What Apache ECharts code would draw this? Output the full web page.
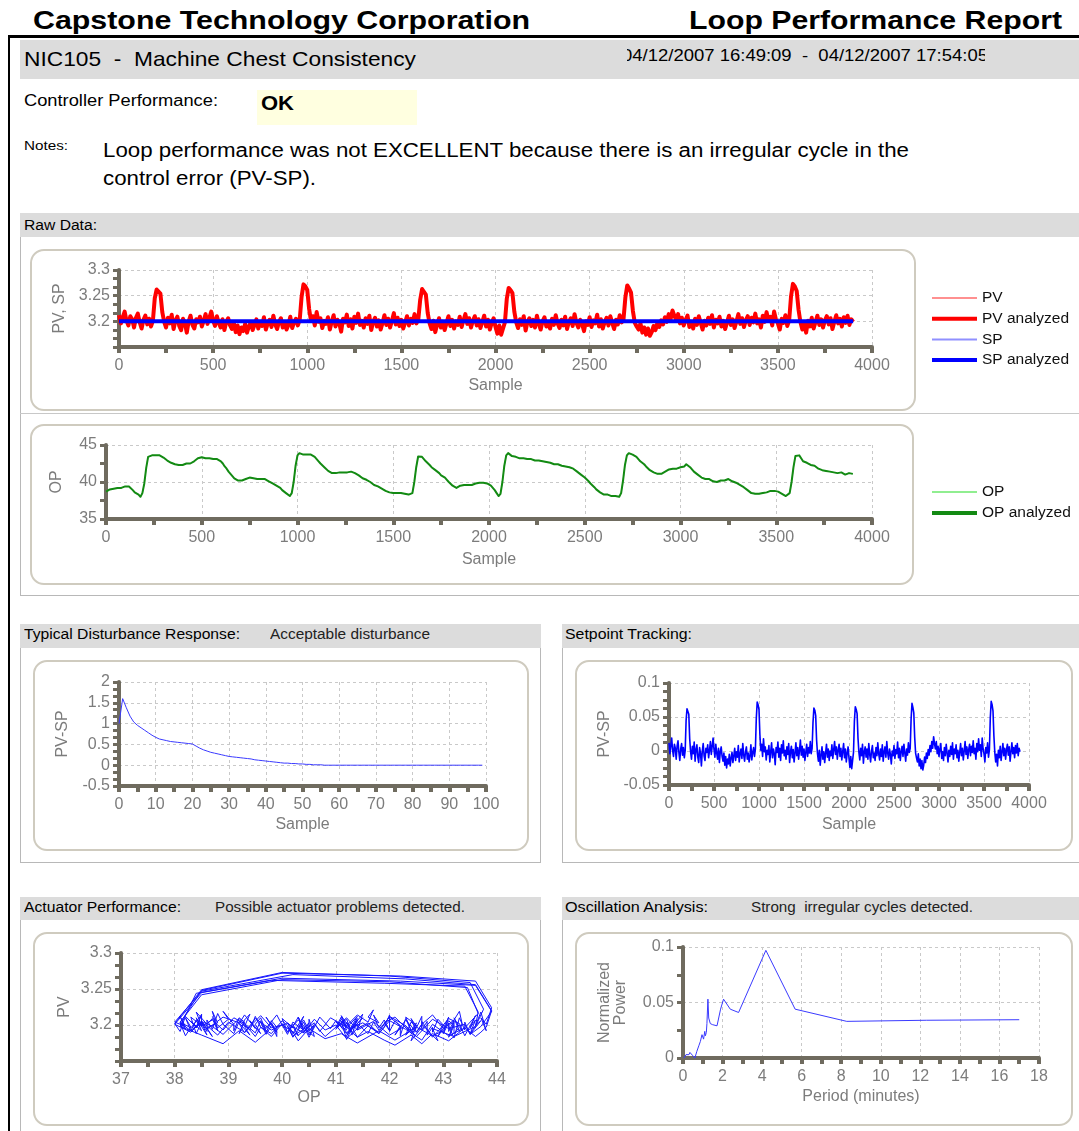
<!DOCTYPE html>
<html><head><meta charset="utf-8">
<script src="https://cdn.jsdelivr.net/npm/echarts@6/dist/echarts.min.js"></script>
<style>
html,body{margin:0;padding:0;background:#fff;width:1079px;height:1131px;overflow:hidden;font-family:"Liberation Sans",Arial,sans-serif;}
.box{position:absolute;box-sizing:border-box;}
.bar{position:absolute;background:#dcdcdc;}
.panel{position:absolute;border:2px solid #cfcbbf;border-radius:14px;background:#fff;box-sizing:border-box;}
.t{position:absolute;white-space:nowrap;transform-origin:0 50%;line-height:1;color:#000;}
#chart{position:absolute;left:0;top:0;width:1079px;height:1131px;}
</style></head><body>
<div class="box" style="left:8px;top:35px;width:1071px;height:3px;background:#000"></div>
<div class="box" style="left:8px;top:35px;width:2px;height:1096px;background:#000"></div>
<div class="bar" style="left:20px;top:40px;width:1059px;height:39px"></div>
<div class="box" style="left:257px;top:90px;width:160px;height:35px;background:#ffffe0"></div>
<div class="bar" style="left:20px;top:213px;width:1059px;height:24px"></div>
<div class="box" style="left:20px;top:237px;width:1061px;height:359px;border:1px solid #b8b8b8;border-top:none"></div>
<div class="box" style="left:20px;top:413px;width:1059px;height:1px;background:#c8c8c8"></div>
<div class="panel" style="left:30px;top:249px;width:886px;height:162px"></div>
<div class="panel" style="left:30px;top:424px;width:884px;height:161px"></div>
<div class="bar" style="left:20px;top:624px;width:521px;height:24px"></div>
<div class="bar" style="left:562px;top:624px;width:517px;height:24px"></div>
<div class="box" style="left:20px;top:648px;width:521px;height:215px;border:1px solid #b8b8b8;border-top:none"></div>
<div class="box" style="left:562px;top:648px;width:519px;height:215px;border:1px solid #b8b8b8;border-top:none"></div>
<div class="panel" style="left:33px;top:660px;width:496px;height:191px"></div>
<div class="panel" style="left:575px;top:660px;width:498px;height:191px"></div>
<div class="bar" style="left:20px;top:897px;width:521px;height:23px"></div>
<div class="bar" style="left:562px;top:897px;width:517px;height:23px"></div>
<div class="box" style="left:20px;top:920px;width:521px;height:220px;border:1px solid #b8b8b8;border-top:none"></div>
<div class="box" style="left:562px;top:920px;width:519px;height:220px;border:1px solid #b8b8b8;border-top:none"></div>
<div class="panel" style="left:33px;top:932px;width:496px;height:194px"></div>
<div class="panel" style="left:575px;top:932px;width:498px;height:194px"></div>
<div class="box" style="left:627px;top:46px;width:358px;height:22px;overflow:hidden"><span class="t" id="dateText" style="left:-5px;top:2px;font-size:16px">04/12/2007 16:49:09&nbsp; - &nbsp;04/12/2007 17:54:05</span></div>
<div id="texts"></div>
<div id="chart"></div>
<script>
// ---------------- data ----------------
const sampleStep = 10; // samples between stored points
const pvValues = [
3.212,3.196,3.208,3.219,3.201,3.192,3.210,3.204,3.188,3.207,
3.215,3.198,3.186,3.203,3.211,3.194,3.205,3.190,3.201,
3.245,3.262,3.258,3.254,3.218,3.199,
3.188,3.207,3.196,3.213,3.185,
3.202,3.209,3.191,3.183,3.205,3.197,3.178,3.200,3.211,3.193,
3.186,3.204,3.198,3.209,3.190,3.201,3.214,3.195,3.207,3.219,
3.202,3.191,3.210,3.197,3.188,3.204,3.183,3.199,3.206,3.192,
3.185,3.197,3.179,3.192,3.175,3.188,3.181,3.195,3.178,3.190,
3.198,3.183,3.193,3.204,3.186,3.199,3.191,3.208,3.184,3.196,
3.203,3.189,3.211,3.194,3.185,3.199,3.206,3.188,3.197,3.184,
3.193,3.209,3.187,3.198,3.205,3.192,3.203,
3.248,3.272,3.268,3.261,3.224,3.201,
3.210,3.192,3.218,3.199,3.206,3.187,3.201,
3.195,3.208,3.184,3.199,3.212,3.190,3.203,3.196,3.180,3.205,
3.198,3.213,3.191,3.204,3.186,3.209,3.197,3.215,3.193,3.201,
3.188,3.206,3.195,3.211,3.183,3.199,3.207,3.190,3.202,3.184,
3.197,3.212,3.193,3.205,3.188,3.201,3.216,3.194,3.207,3.191,
3.203,3.186,3.198,3.210,3.192,3.205,3.197,3.214,3.196,3.204,
3.242,3.263,3.260,3.252,3.216,3.196,
3.185,3.201,3.179,3.194,
3.206,3.188,3.199,3.183,3.197,3.210,3.191,3.203,3.186,3.200,
3.193,3.209,3.189,3.202,3.214,3.195,3.206,3.188,3.201,3.210,
3.192,3.204,3.187,3.199,3.211,3.190,3.203,3.184,3.197,3.206,
3.189,3.176,3.192,3.174,3.186,3.198,
3.244,3.265,3.261,3.255,3.219,3.198,
3.187,3.204,3.193,3.210,3.182,3.199,3.206,3.191,
3.203,3.188,3.211,3.195,3.184,3.200,3.208,3.190,3.197,3.186,
3.205,3.193,3.212,3.196,3.187,3.203,3.192,3.209,3.185,3.199,
3.206,3.191,3.214,3.197,3.188,3.203,3.195,3.181,3.200,3.193,
3.208,3.189,3.202,3.196,3.213,3.190,3.204,3.186,3.199,3.207,
3.192,3.210,3.197,3.185,3.203,3.194,3.212,3.198,3.204,
3.247,3.270,3.264,3.256,3.220,3.197,
3.190,3.184,3.196,3.178,3.188,3.174,3.186,3.172,3.179,3.191,3.183,3.197,3.189,3.202,3.194,
3.208,3.199,3.214,3.204,3.221,3.211,3.203,3.214,3.196,3.207,
3.192,3.203,3.211,3.189,3.199,3.186,3.205,3.193,3.210,3.197,
3.184,3.201,3.192,3.207,3.195,3.212,3.188,3.203,3.196,3.209,
3.190,3.201,3.185,3.198,3.211,3.193,3.204,3.187,3.200,3.214,
3.195,3.206,3.189,3.202,3.210,3.193,3.207,3.198,3.215,3.196,
3.204,3.188,3.211,3.199,3.218,3.201,3.209,3.192,3.219,3.203,
3.196,3.184,3.205,3.197,3.212,3.191,3.202,
3.249,3.273,3.268,3.259,3.222,3.198,
3.184,3.195,3.178,3.201,3.190,3.207,3.186,3.199,3.211,3.193,
3.204,3.188,3.202,3.210,3.194,3.206,3.185,3.199,3.212,3.196,
3.205,3.190,3.208,3.197,3.211,3.193,3.204,3.199
];
const opValues = [
38.7,38.8,39.0,38.9,39.1,39.1,39.2,39.3,39.2,39.3,39.4,39.3,39.4,39.2,38.9,38.6,38.5,38.3,38.0,
38.5,39.8,41.9,43.4,43.65,43.6,
43.5,43.6,43.5,43.6,43.4,
43.3,43.1,42.9,42.8,42.6,42.6,
42.4,42.5,42.3,42.4,42.3,42.4,42.5,42.4,42.5,42.6,
42.8,43.0,43.2,43.3,43.35,
43.3,43.2,43.3,43.2,43.2,43.1,43.2,43.1,43.0,
42.8,42.5,42.1,41.8,41.4,41.1,40.8,40.5,40.3,40.2,40.1,40.2,
40.3,40.4,40.5,40.6,40.5,40.5,40.6,40.4,40.5,40.4,40.3,40.4,40.2,
40.1,40.0,39.8,39.6,39.5,39.4,39.2,38.9,38.7,38.5,38.3,38.1,
38.5,40.0,42.2,43.6,43.9,43.8,
43.7,43.8,43.7,43.6,43.7,43.5,43.4,
43.1,42.8,42.5,42.3,42.0,41.8,41.5,41.3,41.2,
41.1,41.2,41.1,41.3,41.2,41.3,41.4,41.3,41.5,41.4,41.4,
41.2,41.0,40.9,40.7,40.5,40.4,40.3,40.1,40.0,39.8,39.6,39.5,39.4,39.2,39.1,38.9,38.8,38.7,38.6,38.6,
38.5,38.6,38.5,38.4,38.5,38.3,38.4,38.5,38.3,38.1,
38.5,40.0,42.0,43.45,43.65,43.4,
43.1,42.8,42.6,42.3,42.0,41.8,41.6,41.4,41.2,
40.9,40.7,40.6,40.3,40.0,39.8,39.5,39.3,39.2,
39.3,39.5,39.4,39.6,39.5,39.6,39.7,39.6,39.7,39.8,39.7,39.9,39.8,39.9,39.9,39.8,39.7,39.5,
39.2,38.9,38.5,38.1,
38.4,40.0,42.2,43.6,43.9,43.7,
43.5,43.4,43.4,43.3,43.2,43.1,43.2,43.1,43.1,43.0,43.1,43.0,42.9,43.0,42.9,42.8,42.8,42.7,
42.7,42.6,42.6,42.5,42.4,42.5,42.4,42.3,42.2,42.2,42.1,42.0,42.0,41.9,41.8,
41.6,41.4,41.2,41.0,40.8,40.6,40.4,40.1,39.8,39.6,39.3,39.0,38.8,38.6,38.4,38.3,38.2,38.3,38.2,38.1,38.2,38.1,38.2,38.0,
38.5,40.2,42.3,43.6,43.9,43.8,
43.7,43.6,43.4,43.1,42.8,
42.6,42.4,42.1,41.9,41.6,41.4,41.3,41.2,41.1,41.0,
41.1,41.2,41.4,41.6,41.7,41.6,41.8,41.7,41.8,41.9,42.0,41.9,42.1,42.4,
42.3,42.0,41.7,41.4,41.2,41.0,40.8,40.6,40.5,40.4,40.3,40.4,40.2,40.1,40.2,40.0,40.1,40.2,40.3,40.2,40.3,40.4,40.2,40.1,
40.0,39.9,39.7,39.6,39.5,39.3,39.1,38.9,38.7,38.5,38.5,38.4,38.5,38.4,38.3,38.5,38.4,38.6,38.7,38.8,38.7,38.8,38.6,38.7,38.5,38.4,38.2,38.1,38.0,
38.5,40.0,42.0,43.5,43.75,43.6,
43.2,42.8,42.9,42.6,42.5,42.3,42.1,42.2,42.0,41.8,41.7,41.6,41.4,41.5,41.3,41.4,41.2,41.3,41.4,41.2,41.1,41.3,41.2,41.0,41.1,41.2,41.0,41.1
];
const spLevel = 3.2;
const distValues = [
1.00,1.60,1.38,1.18,1.04,0.96,0.90,0.84,0.78,0.72,
0.67,0.63,0.61,0.59,0.57,0.56,0.55,0.54,0.53,0.52,
0.51,0.46,0.41,0.37,0.34,0.31,0.29,0.27,0.25,0.23,
0.21,0.20,0.19,0.18,0.17,0.16,0.15,0.13,0.12,0.11,
0.10,0.09,0.08,0.07,0.06,0.05,0.05,0.04,0.04,0.03,
0.03,0.02,0.02,0.01,0.01,0.01,0,0,0,0,
0,0,0,0,0,0,0,0,0,0,
0,0,0,0,0,0,0,0,0,0,
0,0,0,0,0,0,0,0,0,0,
0,0,0,0,0,0,0,0,0,0
];
const oscPeriod = [0.05,0.1,0.15,0.2,0.25,0.3,0.35,0.4,0.45,0.5,0.55,0.6,0.7,0.8,0.88,0.96,1.04,1.1,1.13,1.18,1.21,1.26,1.3,1.38,1.5,1.72,1.9,2.05,2.39,2.81,4.19,5.67,8.28,12.3,17.0];
const oscPower = [0,0.001,0.003,0.002,0.004,0.003,0.005,0.004,0.006,0.002,0.001,0,0.006,0.011,0.015,0.021,0.017,0.024,0.02,0.023,0.031,0.053,0.036,0.031,0.030,0.029,0.044,0.053,0.044,0.041,0.097,0.044,0.033,0.034,0.0345];

// ---------------- report text ----------------
const textSpecs = [
  {s:'Capstone Technology Corporation', x:33, cy:20, w:497, f:26, b:700},
  {s:'Loop Performance Report', x:689, cy:20, w:373, f:26, b:700},
  {s:'NIC105&nbsp; - &nbsp;Machine Chest Consistency', x:24, cy:58, w:392, f:21, b:400},
  {s:'Controller Performance:', x:24, cy:101, w:194, f:16, b:400},
  {s:'OK', x:261, cy:103, w:33, f:20, b:700},
  {s:'Notes:', x:24, cy:145, w:44, f:13, b:400},
  {s:'Loop performance was not EXCELLENT because there is an irregular cycle in the', x:103, cy:150, w:806, f:20, b:400},
  {s:'control error (PV-SP).', x:103, cy:178, w:213, f:20, b:400},
  {s:'Raw Data:', x:24, cy:225, w:73, f:14, b:400},
  {s:'Typical Disturbance Response:', x:24, cy:634, w:216, f:14, b:400},
  {s:'Acceptable disturbance', x:270, cy:634, w:160, f:14, b:400, c:'#222'},
  {s:'Setpoint Tracking:', x:565, cy:634, w:127, f:14, b:400},
  {s:'Actuator Performance:', x:24, cy:907, w:157, f:14, b:400},
  {s:'Possible actuator problems detected.', x:215, cy:907, w:250, f:14, b:400, c:'#222'},
  {s:'Oscillation Analysis:', x:565, cy:907, w:143, f:14, b:400},
  {s:'Strong&nbsp; irregular cycles detected.', x:751, cy:907, w:222, f:14, b:400, c:'#222'}
];
const holder = document.getElementById('texts');
textSpecs.forEach(t => {
  const el = document.createElement('span');
  el.className = 't';
  el.innerHTML = t.s;
  el.style.left = t.x + 'px';
  el.style.top = (t.cy - t.f * 0.5) + 'px';
  el.style.fontSize = t.f + 'px';
  el.style.fontWeight = t.b;
  if (t.c) el.style.color = t.c;
  holder.appendChild(el);
  const natural = el.getBoundingClientRect().width;
  if (natural > 0) el.style.transform = 'scaleX(' + (t.w / natural) + ')';
});
(function(){
  const d = document.getElementById('dateText');
  const n = d.getBoundingClientRect().width;
  d.style.transform = 'scaleX(' + (366 / n) + ')';
})();

// ---------------- chart ----------------
const axisColor = '#6f6b5f';
const labelColor = '#7c7c7c';
const font = '"Liberation Sans", Arial, sans-serif';
const splitStyle = {show:true, lineStyle:{color:'#c9c9c9', type:[3,3], width:1}};
const plainNum = v => String(+(+v).toFixed(4));

function xAx(grid, min, max, interval, minorSplit, name, gap) {
  return {
    type:'value', gridIndex:grid, min:min, max:max, interval:interval,
    name:name, nameLocation:'middle', nameGap:gap,
    nameTextStyle:{color:labelColor, fontSize:16, fontFamily:font},
    axisLine:{show:true, onZero:false, lineStyle:{color:axisColor, width:4}},
    axisTick:{show:true, length:6, lineStyle:{color:axisColor, width:4}},
    minorTick:{show:true, splitNumber:minorSplit, length:6, lineStyle:{color:axisColor, width:4}},
    axisLabel:{color:labelColor, fontSize:16, fontFamily:font, margin:11, formatter:plainNum},
    splitLine:splitStyle
  };
}
function yAx(grid, min, max, interval, minorSplit, name, gap, hideMin) {
  return {
    type:'value', gridIndex:grid, min:min, max:max, interval:interval,
    name:name, nameLocation:'middle', nameGap:gap, nameRotate:90,
    nameTextStyle:{color:labelColor, fontSize:16, fontFamily:font, lineHeight:16},
    axisLine:{show:true, onZero:false, lineStyle:{color:axisColor, width:4}},
    axisTick:{show:true, length:6, lineStyle:{color:axisColor, width:3}},
    minorTick:{show:true, splitNumber:minorSplit, length:6, lineStyle:{color:axisColor, width:3}},
    axisLabel:{color:labelColor, fontSize:16, fontFamily:font, margin:9, showMinLabel:!hideMin, formatter:plainNum},
    splitLine:splitStyle
  };
}

const pvData = pvValues.map((v, i) => [i * sampleStep, v]);
const spData = pvValues.map((v, i) => [i * sampleStep, spLevel]);
const opData = opValues.map((v, i) => [i * sampleStep, v]);
const errData = pvValues.map((v, i) => [i * sampleStep, +(v - spLevel).toFixed(4)]);
const actData = pvValues.map((v, i) => [opValues[i], v]);
const distData = distValues.map((v, i) => [i, v]);
const oscData = oscPeriod.map((p, i) => [p, oscPower[i]]);

function line(name, x, y, data, color, width, z) {
  return {name:name, type:'line', xAxisIndex:x, yAxisIndex:y, data:data, showSymbol:false, symbol:'none',
    color:color, lineStyle:{color:color, width:width, join:'round'}, z:z || 2, silent:true};
}
const thinIcon = 'path://M0,0H45V2H0Z';
const thickIcon = 'path://M0,0H45V4H0Z';

const option = {
  animation:false,
  grid:[
    {left:119, top:270, width:753, height:77},
    {left:106, top:445, width:766, height:74},
    {left:119, top:682, width:367, height:104},
    {left:669, top:683, width:360, height:102},
    {left:121, top:953, width:376, height:108},
    {left:683, top:947, width:356, height:111}
  ],
  xAxis:[
    xAx(0, 0, 4000, 500, 2, 'Sample', 31),
    xAx(1, 0, 4000, 500, 2, 'Sample', 33),
    xAx(2, 0, 100, 10, 2, 'Sample', 31),
    xAx(3, 0, 4000, 500, 2, 'Sample', 32),
    xAx(4, 37, 44, 1, 2, 'OP', 29),
    xAx(5, 0, 18, 2, 2, 'Period (minutes)', 31)
  ],
  yAxis:[
    yAx(0, 3.15, 3.3, 0.05, 3, 'PV, SP', 49, true),
    yAx(1, 35, 45, 5, 2, 'OP', 41, false),
    yAx(2, -0.5, 2, 0.5, 3, 'PV-SP', 48, false),
    yAx(3, -0.05, 0.1, 0.05, 4, 'PV-SP', 56, false),
    yAx(4, 3.15, 3.3, 0.05, 3, 'PV', 48, true),
    yAx(5, 0, 0.1, 0.05, 2, 'Normalized\nPower', 54, false)
  ],
  legend:[
    {left:927, top:285, orient:'vertical', itemWidth:45, itemHeight:4, itemGap:4.7, selectedMode:false,
     textStyle:{color:'#111', fontSize:15.5, fontFamily:font},
     data:[{name:'PV', icon:thinIcon},{name:'PV analyzed', icon:thickIcon},{name:'SP', icon:thinIcon},{name:'SP analyzed', icon:thickIcon}]},
    {left:927, top:479, orient:'vertical', itemWidth:45, itemHeight:4, itemGap:5, selectedMode:false,
     textStyle:{color:'#111', fontSize:15.5, fontFamily:font},
     data:[{name:'OP', icon:thinIcon},{name:'OP analyzed', icon:thickIcon}]}
  ],
  series:[
    line('PV', 0, 0, pvData, '#ff9090', 1, 2),
    line('PV analyzed', 0, 0, pvData, '#ff0000', 4, 3),
    line('SP', 0, 0, spData, '#9090ff', 1, 4),
    line('SP analyzed', 0, 0, spData, '#0000ff', 4, 5),
    line('OP', 1, 1, opData, '#90ee90', 1, 2),
    line('OP analyzed', 1, 1, opData, '#138a13', 2, 3),
    line('disturbance', 2, 2, distData, '#3a3aff', 1, 2),
    line('PV-SP', 3, 3, errData, '#0000ff', 1.6, 2),
    line('actuator', 4, 4, actData, '#1414ff', 1, 2),
    line('oscillation', 5, 5, oscData, '#3a3aff', 1, 2)
  ]
};
const chart = echarts.init(document.getElementById('chart'), null, {renderer:'canvas', width:1079, height:1131});
chart.setOption(option);
</script>
</body></html>
